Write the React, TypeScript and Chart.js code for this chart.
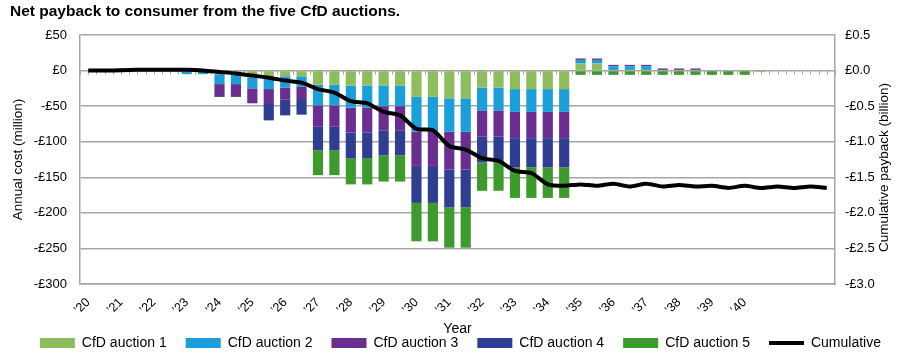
import React, { useEffect, useRef } from 'react';
import { Chart, registerables } from 'chart.js';

Chart.register(...registerables);

const chartTitle = 'Net payback to consumer from the five CfD auctions.';
const leftAxisTitle = 'Annual cost (million)';
const rightAxisTitle = 'Cumulative payback (billion)';
const xAxisTitle = 'Year';

const periods = [
  '’20', '', '’21', '', '’22', '', '’23', '', '’24', '', '’25', '', '’26', '', '’27', '',
  '’28', '', '’29', '', '’30', '', '’31', '', '’32', '', '’33', '', '’34', '', '’35', '',
  '’36', '', '’37', '', '’38', '', '’39', '', '’40', '', '', '', '', '',
];

const seriesNames = ['CfD auction 1', 'CfD auction 2', 'CfD auction 3', 'CfD auction 4', 'CfD auction 5', 'Cumulative'];
const seriesColors = ['#8fbd5e', '#1a9fdb', '#6a2d90', '#2f3e92', '#3d9a2c', '#000000'];

const auction1 = [0, 0, 3, 3, 0, 0, 0, 0, -5, -5, -10, -11, -8, -8, -20, -20, -21, -21, -21, -21, -37, -37, -39, -39, -24, -24, -26, -26, -26, -26, 10, 10, 0, 0, 0, 0, 0, 0, 0, 0, 0, -2, 0, 0, 0, 0];
const auction2 = [0, 0, 0, 0, 0, 0, -5, -5, -14, -14, -15, -15, -16, -15, -29, -29, -31, -31, -29, -29, -49, -49, -47, -47, -32, -32, -32, -32, -32, -32, 5, 5, 6, 6, 6, 0, 0, 0, 0, 0, 0, 0, 0, 0, 0, 0];
const auction3 = [0, 0, 0, 0, 0, 0, 0, 0, -18, -18, -21, -21, -17, -17, -30, -30, -35, -35, -34, -34, -48, -48, -53, -53, -37, -37, -37, -37, -37, -37, 2, 2, 2, 2, 2, 3, 3, 3, 0, 0, 0, 0, 0, 0, 0, 0];
const auction4 = [0, 0, 0, 0, 0, 0, 0, 0, 0, 0, 0, -23, -22, -22, -33, -33, -36, -36, -35, -35, -52, -52, -53, -53, -36, -36, -41, -41, -41, -41, -1, -1, -1, -1, -1, -1, -1, -1, -1, -1, -1, 0, 0, 0, 0, 0];
const auction5 = [0, 0, 0, 0, 0, 0, 0, 0, 0, 0, 0, 0, 0, 0, -35, -35, -37, -37, -37, -37, -54, -54, -57, -57, -40, -40, -43, -43, -43, -43, -5, -5, -5, -5, -5, -5, -5, -5, -5, -5, -5, 0, 0, 0, 0, 0];
const cumulative = [0, 0, 0.005, 0.01, 0.01, 0.01, 0.01, 0, -0.02, -0.04, -0.07, -0.1, -0.14, -0.17, -0.26, -0.31, -0.43, -0.46, -0.58, -0.63, -0.82, -0.84, -1.06, -1.11, -1.23, -1.27, -1.41, -1.44, -1.6, -1.62, -1.6, -1.62, -1.59, -1.63, -1.59, -1.63, -1.61, -1.63, -1.62, -1.65, -1.62, -1.65, -1.63, -1.65, -1.63, -1.65];

const FONT = '"Liberation Sans", Arial, sans-serif';
const GRID = '#a6a6a6';

const zeroTicksPlugin = {
  id: 'zeroTicks',
  beforeDatasetsDraw(chart: any) {
    const x = chart.scales.x;
    const y = chart.scales.y;
    const ctx = chart.ctx;
    const y0 = y.getPixelForValue(0);
    const step = (x.getPixelForValue(1) - x.getPixelForValue(0)) / 2;
    ctx.save();
    ctx.strokeStyle = GRID;
    ctx.lineWidth = 1;
    for (let k = 0; k <= periods.length * 2; k++) {
      const px = Math.round(x.getPixelForValue(0) - step + k * step) + 0.5;
      ctx.beginPath();
      ctx.moveTo(px, y0);
      ctx.lineTo(px, y0 + 4);
      ctx.stroke();
    }
    ctx.restore();
  },
};

const rightTitlePlugin = {
  id: 'rightTitle',
  afterDraw(chart: any) {
    const s = chart.scales.y2;
    const area = chart.chartArea;
    const ctx = chart.ctx;
    ctx.save();
    ctx.translate(s.right - 16, (area.top + area.bottom) / 2 + 8);
    ctx.rotate(-Math.PI / 2);
    ctx.textAlign = 'center';
    ctx.textBaseline = 'middle';
    ctx.fillStyle = '#000';
    ctx.font = '13.5px ' + FONT;
    ctx.fillText(rightAxisTitle, 0, 0);
    ctx.restore();
  },
};

const money = (v: number, digits: number) => (v < 0 ? '-£' : '£') + Math.abs(v).toFixed(digits);

export default function App() {
  const ref = useRef<HTMLCanvasElement>(null);

  useEffect(() => {
    document.body.style.margin = '0';
    const barSeries = [auction1, auction2, auction3, auction4, auction5];
    const datasets: any[] = barSeries.map((d, i) => ({
      type: 'bar',
      label: seriesNames[i],
      data: d,
      backgroundColor: seriesColors[i],
      borderWidth: 0,
      yAxisID: 'y',
      categoryPercentage: 1,
      barPercentage: 0.62,
    }));
    datasets.push({
      type: 'line',
      label: seriesNames[5],
      data: cumulative,
      borderColor: seriesColors[5],
      backgroundColor: seriesColors[5],
      borderWidth: 4,
      pointRadius: 0,
      tension: 0.25,
      yAxisID: 'y2',
      order: -1,
    });

    const chart = new Chart(ref.current as HTMLCanvasElement, {
      type: 'bar',
      data: { labels: periods, datasets },
      plugins: [zeroTicksPlugin, rightTitlePlugin],
      options: {
        responsive: false,
        animation: false,
        layout: { padding: { left: 10, right: 0, top: 0, bottom: 0 } },
        plugins: {
          tooltip: { enabled: false },
          title: {
            display: true,
            text: chartTitle,
            align: 'start',
            color: '#000',
            font: { family: FONT, size: 15.5, weight: 'bold', lineHeight: 1.2 },
            padding: { top: 2, bottom: 14.4 },
          },
          legend: {
            position: 'bottom',
            maxHeight: 36,
            align: 'end',
            labels: {
              color: '#000',
              font: { family: FONT, size: 14 },
              usePointStyle: true,
              pointStyleWidth: 35,
              boxHeight: 10,
              padding: 19,
              sort: (a: any, b: any) => a.datasetIndex - b.datasetIndex,
              generateLabels(c: any) {
                const items = (Chart.defaults as any).plugins.legend.labels.generateLabels(c);
                items.forEach((it: any) => {
                  it.pointStyle = it.datasetIndex === 5 ? 'line' : 'rect';
                });
                return items;
              },
            },
          },
        },
        scales: {
          x: {
            stacked: true,
            offset: true,
            grid: { display: false, drawTicks: false },
            border: { display: true, color: GRID, width: 1.5 },
            ticks: {
              autoSkip: false,
              maxRotation: 45,
              minRotation: 45,
              padding: 11,
              color: '#000',
              font: { family: FONT, size: 12.5 },
            },
            title: {
              display: true,
              text: xAxisTitle,
              color: '#000',
              font: { family: FONT, size: 14, lineHeight: 1 },
              padding: { top: 0, bottom: -19 },
            },
            afterFit(scale: any) {
              scale.height = 33;
            },
          },
          y: {
            stacked: true,
            position: 'left',
            min: -300,
            max: 50,
            grid: { color: GRID, lineWidth: 1.4, drawTicks: false },
            border: { display: true, color: GRID, width: 1.5 },
            ticks: {
              stepSize: 50,
              padding: 13,
              color: '#000',
              font: { family: FONT, size: 13 },
              callback: (v: any) => money(Number(v), 0),
            },
            title: {
              display: true,
              text: leftAxisTitle,
              color: '#000',
              font: { family: FONT, size: 13.5, lineHeight: 1.2 },
              padding: { top: 0, bottom: 0 },
            },
            afterFit(scale: any) {
              scale.width = 70;
            },
          },
          y2: {
            position: 'right',
            min: -3,
            max: 0.5,
            grid: { display: false, drawTicks: false },
            border: { display: true, color: GRID, width: 1.5 },
            ticks: {
              stepSize: 0.5,
              padding: 10,
              color: '#000',
              font: { family: FONT, size: 13 },
              callback: (v: any) => money(Number(v), 1),
            },
            afterFit(scale: any) {
              scale.width = 65;
            },
          },
        },
      } as any,
    });
    return () => chart.destroy();
  }, []);

  return (
    <div style={{ width: 900, height: 353, background: '#fff' }}>
      <canvas ref={ref} width={900} height={353} />
    </div>
  );
}
